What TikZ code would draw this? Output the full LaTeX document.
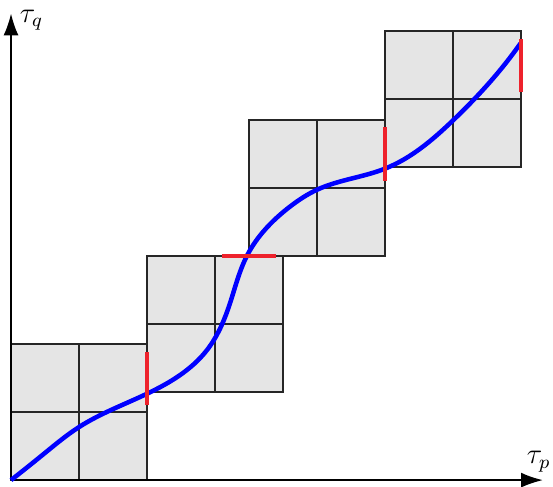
\documentclass[tikz,border=0pt]{standalone}
\usetikzlibrary{arrows.meta,hobby}
\definecolor{boxgray}{RGB}{229,229,229}
\definecolor{segred}{RGB}{238,34,44}
\begin{document}
\begin{tikzpicture}[x=1cm,y=1cm,
  cellbox/.style={draw=black!85, fill=boxgray, line width=0.7pt},
  gridline/.style={draw=black!85, line width=0.7pt},
  axis/.style={draw=black, line width=0.6pt, -{Latex[length=3.2mm,width=2.2mm]}},
  curve/.style={draw=blue, line width=1.9pt},
  seg/.style={draw=segred, line width=1.8pt},
  axlabel/.style={font=\large}]
\useasboundingbox (-0.162,-0.088) rectangle (7.97,7.06);
% boxes
\foreach \bx/\by in {0/0, 2/1.3, 3.5/3.3, 5.5/4.6}{
  \path[cellbox] (\bx,\by) rectangle ++(2,2);
  \draw[gridline] (\bx+1,\by) -- ++(0,2);
  \draw[gridline] (\bx,\by+1) -- ++(2,0);
}
% axes
\coordinate (O) at (0,0);
\coordinate (X) at (7.82,0);
\coordinate (Y) at (0,6.86);
\draw[axis] (O) -- (X);
\draw[axis] (O) -- (Y);
\node[axlabel] (tp) at (7.76,0.27) {$\tau_p$};
\node[axlabel] (tq) at (0.3,6.76) {$\tau_q$};
% curve
\draw[curve, use Hobby shortcut] ([out angle=38]0,0) .. (0.5,0.4) .. (1,0.78) .. (2,1.27) .. (2.88,1.91)
  .. (3.22,2.6) .. (3.47,3.3) .. (4.1,4.02) .. (4.5,4.27) .. (5.5,4.58)
  .. (6.5,5.29) .. ([in angle=-125]7.49,6.42);
% red segments
\draw[seg] (2,1.1) -- (2,1.88);
\draw[seg] (3.1,3.3) -- (3.9,3.3);
\draw[seg] (5.5,4.4) -- (5.5,5.19);
\draw[seg] (7.5,5.7) -- (7.5,6.49);
\end{tikzpicture}
\end{document}
